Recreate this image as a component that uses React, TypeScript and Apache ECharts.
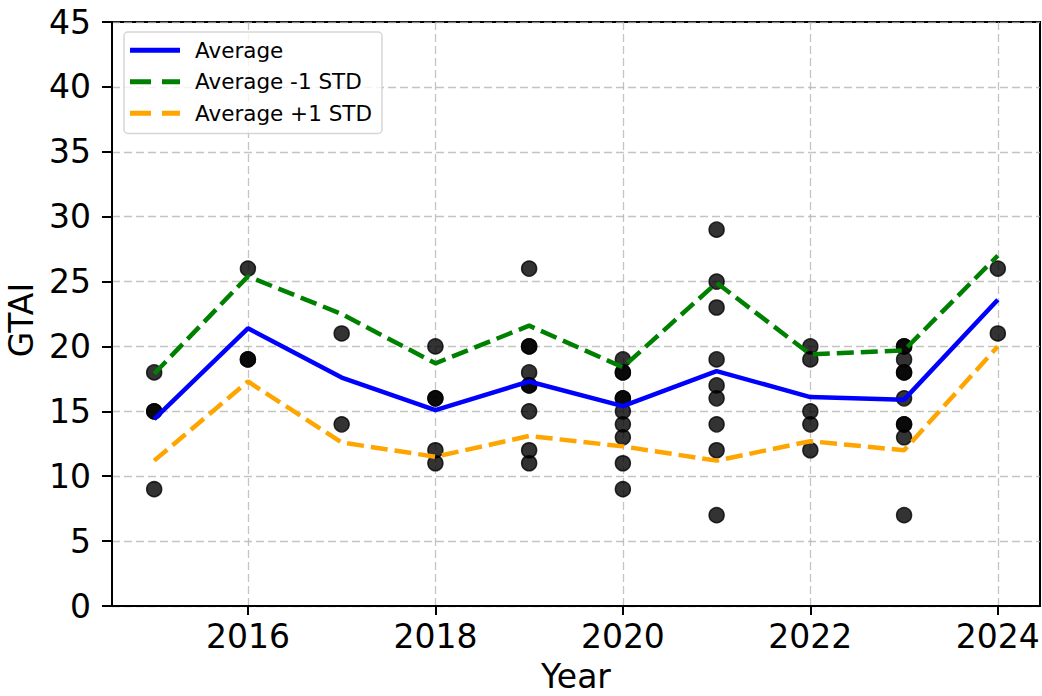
import React, { useEffect, useRef } from "react";
import * as echarts from "echarts";

const years = [2015, 2016, 2017, 2018, 2019, 2020, 2021, 2022, 2023, 2024];
const average = [14.4, 21.4, 17.6, 15.1, 17.3, 15.4, 18.1, 16.1, 15.9, 23.6];
const averageMinusStd = [17.9, 25.4, 22.5, 18.7, 21.6, 18.4, 24.9, 19.4, 19.7, 27.0];
const averagePlusStd = [11.2, 17.3, 12.6, 11.5, 13.1, 12.3, 11.2, 12.7, 12.0, 20.0];

const points2015 = [18, 15, 15, 9];
const points2016 = [26, 19, 19];
const points2017 = [21, 14];
const points2018 = [20, 16, 16, 12, 11];
const points2019 = [26, 20, 20, 18, 17, 17, 15, 12, 11];
const points2020 = [19, 18, 18, 16, 16, 15, 14, 13, 11, 9];
const points2021 = [29, 25, 23, 19, 17, 16, 14, 12, 7];
const points2022 = [20, 19, 15, 14, 12];
const points2023 = [20, 20, 19, 18, 18, 16, 14, 14, 13, 7];
const points2024 = [26, 21];
const pointsByYear = [
  points2015, points2016, points2017, points2018, points2019,
  points2020, points2021, points2022, points2023, points2024,
];

const xTicks = [2016, 2018, 2020, 2022, 2024];
const yTicks = [0, 5, 10, 15, 20, 25, 30, 35, 40, 45];

const FONT = "DejaVu Sans";
const SOLID_ICON = "path://M0,0H50V5H0Z";
const DASH_ICON = "path://M0,0H21V5H0Z M32,0H50V5H32Z";

export default function App() {
  const ref = useRef<HTMLDivElement>(null);
  useEffect(() => {
    if (!ref.current) return;
    const chart = echarts.init(ref.current, null, { renderer: "svg" });
    const scatterData: number[][] = [];
    years.forEach((y, i) => pointsByYear[i].forEach((v) => scatterData.push([y, v])));
    const lineData = (arr: number[]) => years.map((y, i) => [y, arr[i]]);
    const gridLine = { color: "rgba(176,176,176,0.75)", width: 1.3, type: [8, 4] };
    chart.setOption({
      animation: false,
      backgroundColor: "#ffffff",
      textStyle: { fontFamily: FONT },
      grid: {
        left: 112,
        right: 2,
        top: 22,
        bottom: 90,
        outerBoundsMode: "none",
        containLabel: false,
        show: true,
        borderColor: "#000",
        borderWidth: 2,
        backgroundColor: "transparent",
      },
      legend: {
        orient: "vertical",
        left: 124,
        top: 32,
        data: [
          { name: "Average", icon: SOLID_ICON },
          { name: "Average -1 STD", icon: DASH_ICON },
          { name: "Average +1 STD", icon: DASH_ICON },
        ],
        itemWidth: 50,
        itemHeight: 5,
        itemGap: 9,
        padding: [7, 10, 9, 6],
        backgroundColor: "rgba(255,255,255,0.8)",
        borderColor: "rgba(204,204,204,0.8)",
        borderWidth: 1.5,
        borderRadius: 4,
        textStyle: {
          fontFamily: FONT,
          fontSize: 21.5,
          lineHeight: 22.5,
          color: "#000",
          padding: [0, 0, 0, 10],
        },
      },
      xAxis: {
        type: "value",
        min: 2014.55,
        max: 2024.45,
        name: "Year",
        nameLocation: "middle",
        nameGap: 54,
        nameTextStyle: { fontFamily: FONT, fontSize: 33, lineHeight: 33, color: "#000" },
        axisLine: { show: true, lineStyle: { color: "#000", width: 2 } },
        axisTick: {
          show: true,
          inside: false,
          length: 9,
          customValues: xTicks,
          lineStyle: { color: "#000", width: 2 },
        },
        axisLabel: {
          customValues: xTicks,
          fontFamily: FONT,
          fontSize: 33,
          color: "#000",
          margin: 14,
          formatter: (v: number) => (Number.isInteger(v) ? String(v) : ""),
        },
        splitLine: { show: true, lineStyle: gridLine },
      },
      yAxis: {
        type: "value",
        min: 0,
        max: 45,
        interval: 5,
        name: "GTAI",
        nameLocation: "middle",
        nameGap: 67,
        nameTextStyle: {
          fontFamily: FONT,
          fontSize: 33,
          color: "#000",
          padding: [0, 12, 0, 0],
        },
        axisLine: { show: true, lineStyle: { color: "#000", width: 2 } },
        axisTick: { show: true, length: 10, lineStyle: { color: "#000", width: 2 } },
        axisLabel: {
          fontFamily: FONT,
          fontSize: 33,
          color: "#000",
          margin: 21,
          formatter: (v: number) => (yTicks.includes(v) ? String(v) : ""),
        },
        splitLine: { show: true, lineStyle: gridLine },
      },
      series: [
        {
          type: "scatter",
          name: "GTAI",
          data: scatterData,
          symbol: "circle",
          symbolSize: 15,
          itemStyle: {
            color: "rgba(0,0,0,0.8)",
            borderColor: "rgba(0,0,0,0.8)",
            borderWidth: 1.5,
            opacity: 1,
          },
          z: 2,
        },
        {
          type: "line",
          name: "Average",
          data: lineData(average),
          symbol: "none",
          lineStyle: { color: "#0000ff", width: 4.5 },
          itemStyle: { color: "#0000ff" },
          z: 3,
        },
        {
          type: "line",
          name: "Average -1 STD",
          data: lineData(averageMinusStd),
          symbol: "none",
          lineStyle: { color: "#008000", width: 4.5, type: [17, 7] },
          itemStyle: { color: "#008000" },
          z: 3,
        },
        {
          type: "line",
          name: "Average +1 STD",
          data: lineData(averagePlusStd),
          symbol: "none",
          lineStyle: { color: "#ffa500", width: 4.5, type: [17, 7] },
          itemStyle: { color: "#ffa500" },
          z: 3,
        },
      ],
    });
    return () => chart.dispose();
  }, []);
  return (
    <div
      ref={ref}
      style={{ position: "fixed", left: 0, top: 0, width: 1042, height: 696 }}
    />
  );
}
